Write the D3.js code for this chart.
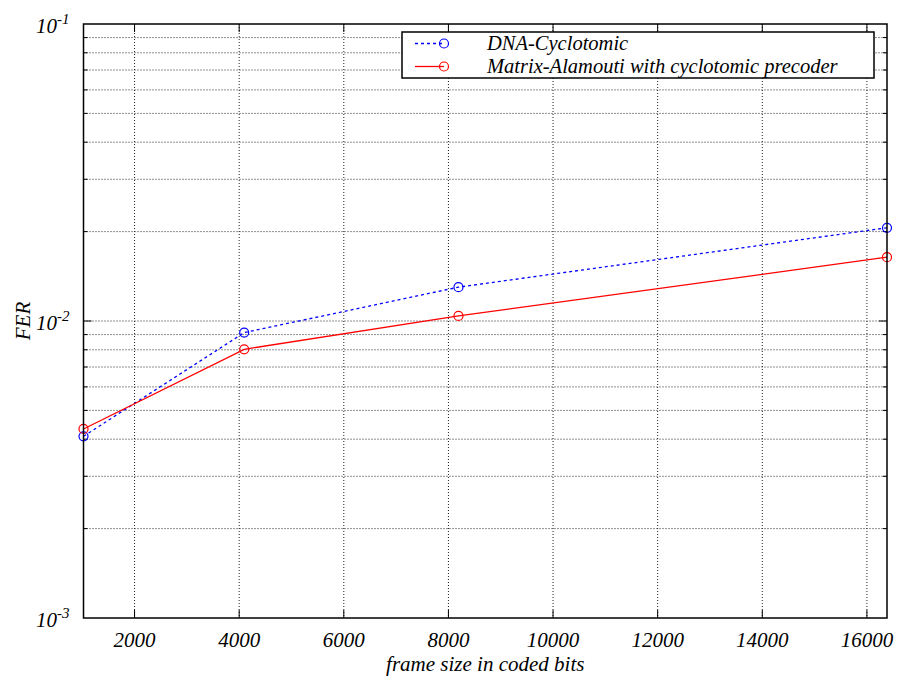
<!DOCTYPE html>
<meta charset="utf-8" />
<script src="https://d3js.org/d3.v7.min.js"></script>
<style>
	body { margin: 0; background: #fff; }
	text { font-family: "Liberation Serif", "DejaVu Serif", serif; font-style: italic; }
</style>
<div id="chart"></div>
<script>
	// data
	var frameSizes = [1024, 4096, 8192, 16384];
	var dnaCyclotomic = [0.00409, 0.00914, 0.0130, 0.0206];
	var matrixAlamouti = [0.00433, 0.00803, 0.0104, 0.0164];
	var seriesNames = ["DNA-Cyclotomic", "Matrix-Alamouti with cyclotomic precoder"];
	var xTicks = [2000, 4000, 6000, 8000, 10000, 12000, 14000, 16000];
	var yDecades = [1e-3, 1e-2, 1e-1];
	var yExponents = ["-3", "-2", "-1"];

	var W = 901, H = 677;
	var margin = { top: 24, right: 14, bottom: 59, left: 83.5 },
		width = W - margin.left - margin.right,
		height = H - margin.top - margin.bottom;

	var svg = d3.select("#chart").append("svg")
		.attr("width", W).attr("height", H);
	var g = svg.append("g")
		.attr("transform", "translate(" + margin.left + "," + margin.top + ")");

	var x = d3.scaleLinear().domain([1024, 16384]).range([0, width]);
	var y = d3.scaleLog().domain([1e-3, 1e-1]).range([height, 0]);

	// minor values 2..9 in each decade
	var yMinor = [];
	[1e-3, 1e-2].forEach(function (d) {
		for (var k = 2; k <= 9; k++) yMinor.push(d * k);
	});
	var yGrid = yMinor.concat([1e-2]);

	// grid
	g.append("g").selectAll("line").data(xTicks).join("line")
		.attr("x1", d => x(d)).attr("x2", d => x(d))
		.attr("y1", 0).attr("y2", height)
		.attr("stroke", "#222").attr("stroke-width", 1)
		.attr("stroke-dasharray", "1,2");
	g.append("g").selectAll("line").data(yGrid).join("line")
		.attr("x1", 0).attr("x2", width)
		.attr("y1", d => y(d)).attr("y2", d => y(d))
		.attr("stroke", "#222").attr("stroke-width", 1)
		.attr("stroke-dasharray", "1,2");

	// tick marks inside the box, all four sides
	var tickG = g.append("g").attr("stroke", "#000").attr("stroke-width", 1);
	xTicks.forEach(function (d) {
		tickG.append("line").attr("x1", x(d)).attr("x2", x(d)).attr("y1", height).attr("y2", height - 8);
		tickG.append("line").attr("x1", x(d)).attr("x2", x(d)).attr("y1", 0).attr("y2", 8);
	});
	yGrid.forEach(function (d) {
		var len = yDecades.indexOf(d) >= 0 ? 8 : 4;
		tickG.append("line").attr("x1", 0).attr("x2", len).attr("y1", y(d)).attr("y2", y(d));
		tickG.append("line").attr("x1", width).attr("x2", width - len).attr("y1", y(d)).attr("y2", y(d));
	});

	// x tick labels
	g.append("g").selectAll("text").data(xTicks).join("text")
		.attr("x", d => x(d)).attr("y", height + 29)
		.attr("text-anchor", "middle")
		.attr("font-size", 21)
		.text(d => d);

	// y tick labels 10^n
	var yl = g.append("g").selectAll("text").data(yDecades).join("text")
		.attr("x", -14).attr("y", (d, i) => y(d) + 9)
		.attr("text-anchor", "end")
		.attr("font-size", 21);
	yl.append("tspan").text("10");
	yl.append("tspan").attr("dy", -9).attr("font-size", 15).text((d, i) => yExponents[i]);

	// axis titles
	g.append("text")
		.attr("x", width / 2).attr("y", height + 53)
		.attr("text-anchor", "middle").attr("font-size", 21)
		.text("frame size in coded bits");
	g.append("text")
		.attr("transform", "translate(" + (-54) + "," + y(1e-2) + ") rotate(-90)")
		.attr("text-anchor", "middle").attr("font-size", 21)
		.text("FER");

	// series
	var series = [
		{ name: seriesNames[0], values: dnaCyclotomic, color: "#0000ff", dash: "3,3" },
		{ name: seriesNames[1], values: matrixAlamouti, color: "#ff0000", dash: null }
	];
	var line = d3.line().x(d => x(d[0])).y(d => y(d[1]));
	series.forEach(function (s) {
		var pts = frameSizes.map((f, i) => [f, s.values[i]]);
		g.append("path").datum(pts)
			.attr("fill", "none").attr("stroke", s.color).attr("stroke-width", 1.3)
			.attr("stroke-dasharray", s.dash)
			.attr("d", line);
		g.append("g").selectAll("circle").data(pts).join("circle")
			.attr("cx", d => x(d[0])).attr("cy", d => y(d[1])).attr("r", 4.5)
			.attr("fill", "none").attr("stroke", s.color).attr("stroke-width", 1.2);
	});

	// frame
	g.append("rect").attr("width", width).attr("height", height)
		.attr("fill", "none").attr("stroke", "#000").attr("stroke-width", 1.5);

	// legend
	var lg = g.append("g").attr("transform", "translate(" + (402 - margin.left) + "," + (32 - margin.top) + ")");
	lg.append("rect").attr("width", 472).attr("height", 46)
		.attr("fill", "#fff").attr("stroke", "#000").attr("stroke-width", 1.5);
	series.forEach(function (s, i) {
		var ly = 11.5 + i * 23;
		lg.append("line").attr("x1", 13).attr("x2", 42).attr("y1", ly).attr("y2", ly)
			.attr("stroke", s.color).attr("stroke-width", 1.3).attr("stroke-dasharray", s.dash);
		lg.append("circle").attr("cx", 42).attr("cy", ly).attr("r", 4.5)
			.attr("fill", "none").attr("stroke", s.color).attr("stroke-width", 1.2);
		lg.append("text").attr("x", 85).attr("y", ly + 6)
			.attr("font-size", 20.5).text(s.name);
	});
</script>
